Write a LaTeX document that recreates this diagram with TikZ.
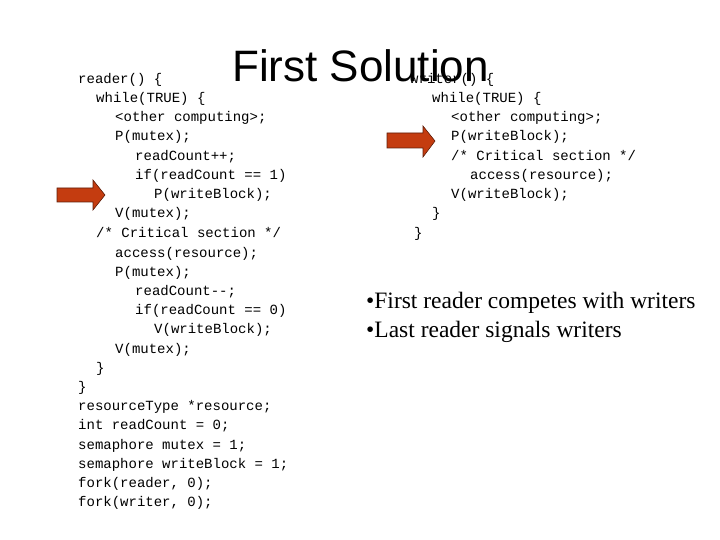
\documentclass[tikz,border=0pt]{standalone}
\usepackage{fontspec}
\setmainfont{Liberation Serif}
\newfontfamily\codefont{Liberation Mono}
\newfontfamily\titlefont{Liberation Sans}
\usepackage{tikz}
\usepackage{color}
\definecolor{arrowred}{RGB}{196,60,16}
\definecolor{arrowedge}{RGB}{95,30,10}

\tikzset{
  code/.style={anchor=base west, inner sep=0pt, font=\codefont\fontsize{14}{16}\selectfont},
  bullet/.style={anchor=base west, inner sep=0pt, font=\fontsize{23.5}{26}\selectfont},
  blockarrow/.style={fill=arrowred, draw=arrowedge, line width=0.6pt}
}

\begin{document}
\begin{tikzpicture}[x=1pt,y=-1pt]
  \useasboundingbox (0,0) rectangle (720,540);
  % reader
  \node[code] (r1) at (78,84) {reader() \{};
  \node[code] (r2) at (96,103) {while(TRUE) \{};
  \node[code] (r3) at (115,122) {<other computing>;};
  \node[code] (r4) at (115,141) {P(mutex);};
  \node[code] (r5) at (135,161) {readCount++;};
  \node[code] (r6) at (135,180) {if(readCount == 1)};
  \node[code] (r7) at (154,199) {P(writeBlock);};
  \node[code] (r8) at (115,218) {V(mutex);};
  \node[code] (r9) at (96,237) {/* Critical section */};
  \node[code] (r10) at (115,257) {access(resource);};
  \node[code] (r11) at (115,276) {P(mutex);};
  \node[code] (r12) at (135,295) {readCount-\/-;};
  \node[code] (r13) at (135,314) {if(readCount == 0)};
  \node[code] (r14) at (154,333) {V(writeBlock);};
  \node[code] (r15) at (115,353) {V(mutex);};
  \node[code] (r16) at (96,372) {\}};
  \node[code] (r17) at (78,391) {\}};
  % shared data
  \node[code] (d1) at (78,410) {resourceType *resource;};
  \node[code] (d2) at (78,429) {int readCount = 0;};
  \node[code] (d3) at (78,449) {semaphore mutex = 1;};
  \node[code] (d4) at (78,468) {semaphore writeBlock = 1;};
  \node[code] (d5) at (78,487) {fork(reader, 0);};
  \node[code] (d6) at (78,506) {fork(writer, 0);};
  % writer
  \node[code] (w1) at (410,84) {writer() \{};
  \node[code] (w2) at (432,103) {while(TRUE) \{};
  \node[code] (w3) at (451,122) {<other computing>;};
  \node[code] (w4) at (451,141) {P(writeBlock);};
  \node[code] (w5) at (451,161) {/* Critical section */};
  \node[code] (w6) at (470,180) {access(resource);};
  \node[code] (w7) at (451,199) {V(writeBlock);};
  \node[code] (w8) at (432,218) {\}};
  \node[code] (w9) at (414,237) {\}};
  % title
  \node[anchor=base west, inner sep=0pt, font=\titlefont\fontsize{44}{48}\selectfont] (title) at (232,82) {First Solution};
  % arrows
  \filldraw[blockarrow] (57,188) -- (93,188) -- (93,180) -- (105,195) -- (93,210) -- (93,202) -- (57,202) -- cycle;
  \filldraw[blockarrow] (387,133) -- (423,133) -- (423,126) -- (435,141) -- (423,157) -- (423,148) -- (387,148) -- cycle;
  % notes
  \node[bullet] (b1) at (366,308) {\textbullet First reader competes with writers};
  \node[bullet] (b2) at (366,337) {\textbullet Last reader signals writers};
\end{tikzpicture}
\end{document}
